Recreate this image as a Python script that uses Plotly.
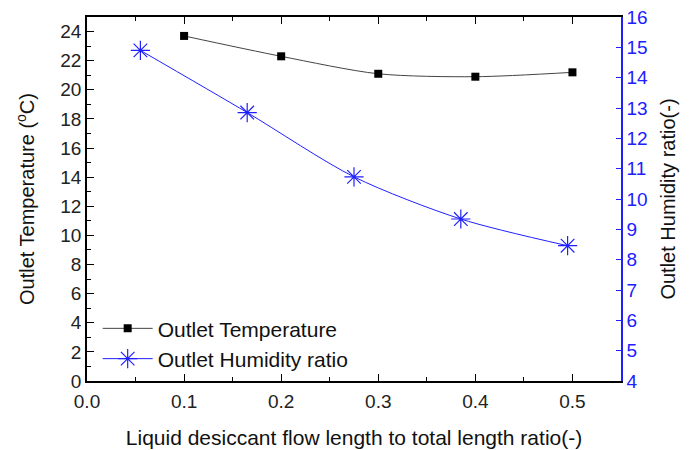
import plotly.graph_objects as go

temp_x = [0.1, 0.2, 0.3, 0.4, 0.5]
temp_y = [23.7, 22.3, 21.1, 20.9, 21.2]
hum_x = [0.055, 0.165, 0.275, 0.385, 0.495]
hum_y = [14.9, 12.85, 10.73, 9.34, 8.46]

FONT = "Liberation Sans, Arial, sans-serif"
BLUE = "#2020ff"

fig = go.Figure()
fig.add_trace(go.Scatter(
    x=temp_x, y=temp_y, name="Outlet Temperature", mode="lines+markers",
    line=dict(color="#444444", width=1, shape="spline", smoothing=0.8),
    marker=dict(symbol="square", size=8, color="black"),
))
fig.add_trace(go.Scatter(
    x=hum_x, y=hum_y, name="Outlet Humidity ratio", mode="lines+markers", yaxis="y2",
    line=dict(color=BLUE, width=1, shape="spline", smoothing=0.8),
    marker=dict(symbol="asterisk-open", size=16, color=BLUE, line=dict(color=BLUE, width=1.2)),
))

# page body has an 8px margin, so the figure is sized to fit the 691x450 window
fig.update_layout(
    width=683, height=442,
    margin=dict(l=79, r=70, t=9, b=69),
    paper_bgcolor="white", plot_bgcolor="white",
    font=dict(family=FONT, size=19, color="black"),
    showlegend=True,
    legend=dict(x=0.02, y=0.2, xanchor="left", yanchor="top", bgcolor="rgba(0,0,0,0)",
                font=dict(size=21, color="#111"), tracegroupgap=0, itemwidth=50),
    xaxis=dict(
        range=[0, 0.55], tickvals=[0, 0.1, 0.2, 0.3, 0.4, 0.5],
        ticktext=["0.0", "0.1", "0.2", "0.3", "0.4", "0.5"],
        showgrid=False, zeroline=False, showline=True, linecolor="black", linewidth=1.5,
        ticks="inside", ticklen=7, tickcolor="black", mirror="ticks",
        minor=dict(dtick=0.05, tick0=0, ticks="inside", ticklen=4, tickcolor="black"),
        title=dict(text="Liquid desiccant flow length to total length ratio(-)", font=dict(size=21, color="#111"), standoff=20),
        tickfont=dict(size=19, color="#222"),
        ticklabelstandoff=2, automargin=False, ticklabeloverflow="allow",
    ),
    yaxis=dict(
        range=[0, 25], tickvals=list(range(0, 25, 2)),
        showgrid=False, zeroline=False, showline=True, linecolor="black", linewidth=1.5,
        ticks="inside", ticklen=7, tickcolor="black",
        minor=dict(dtick=1, tick0=0, ticks="inside", ticklen=4, tickcolor="black"),
        title=dict(text="Outlet Temperature (<sup>o</sup>C)", font=dict(size=20, color="#111"), standoff=20),
        tickfont=dict(size=19, color="#222"), automargin=False, ticklabeloverflow="allow",
    ),
    yaxis2=dict(
        range=[4, 16], tickvals=list(range(4, 17)), overlaying="y", side="right",
        showgrid=False, zeroline=False, showline=True, linecolor=BLUE, linewidth=1.5,
        ticks="inside", ticklen=5, tickcolor=BLUE,
        title=dict(text="Outlet Humidity ratio(-)", font=dict(size=20, color="#111"), standoff=14),
        tickfont=dict(size=19, color=BLUE), automargin=False, ticklabeloverflow="allow",
    ),
)

fig.write_html("out.html")
